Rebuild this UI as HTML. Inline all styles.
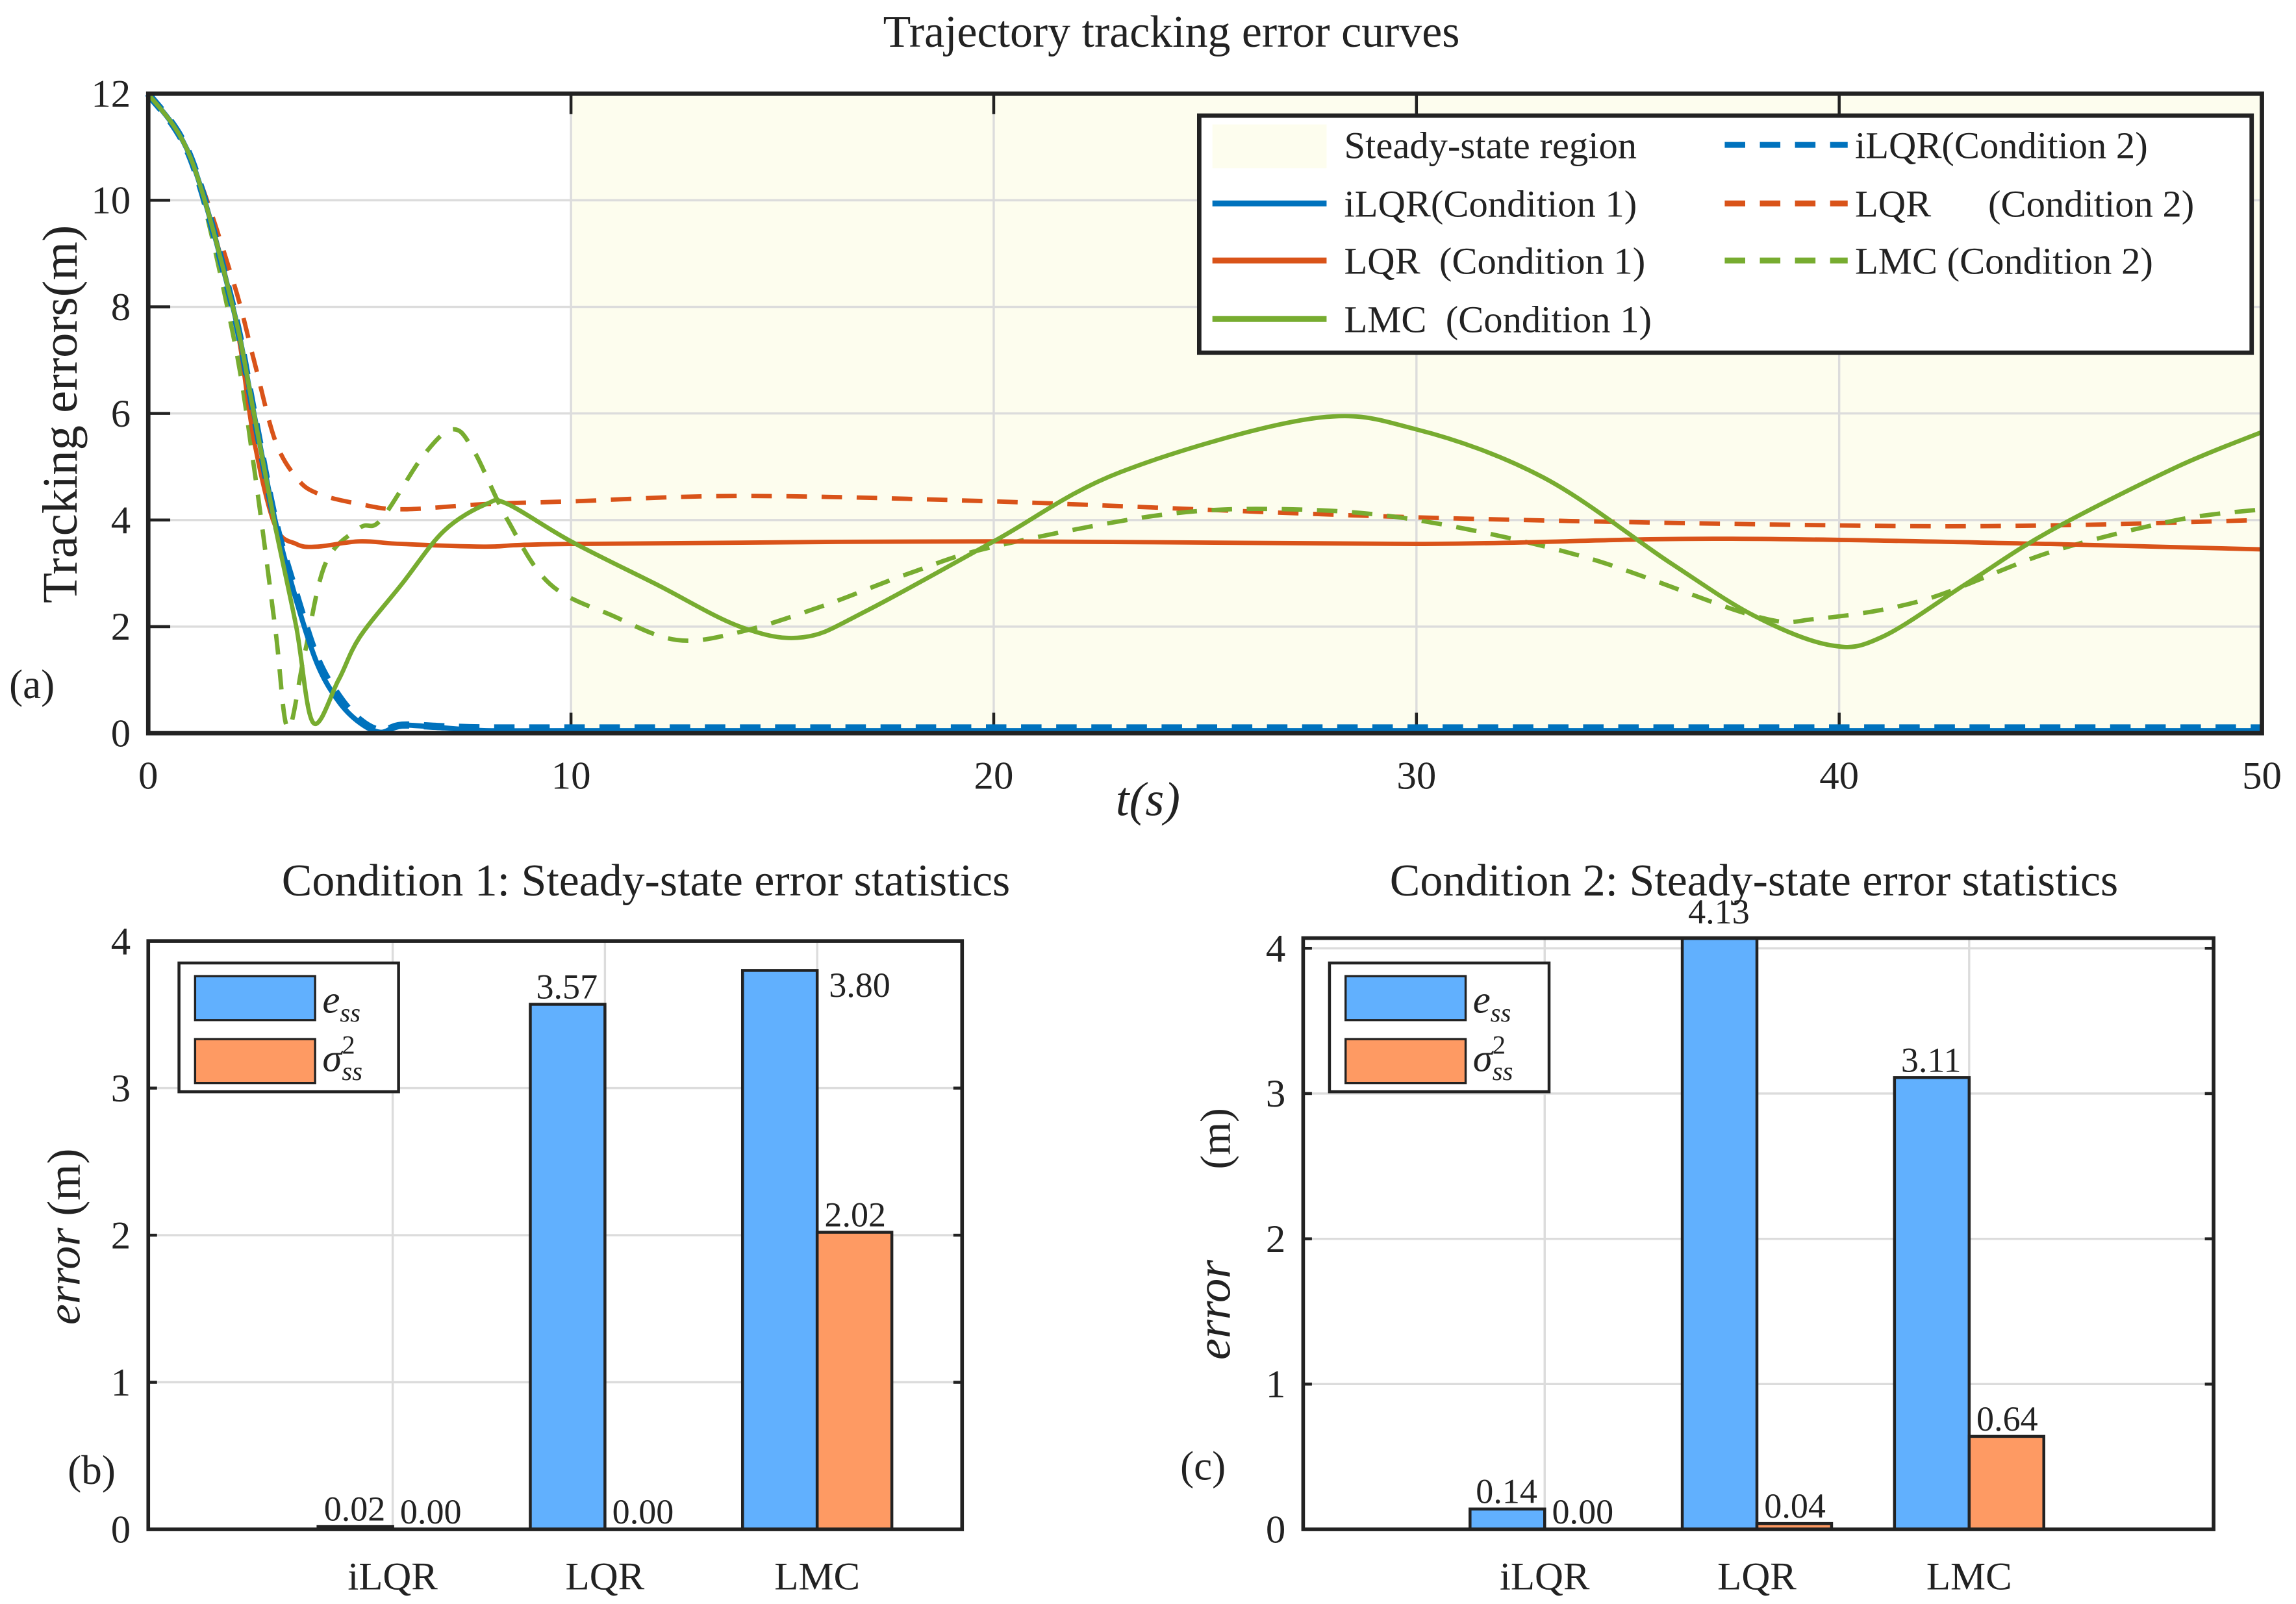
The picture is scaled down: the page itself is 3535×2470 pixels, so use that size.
<!DOCTYPE html>
<html><head><meta charset="utf-8">
<style>
html,body{margin:0;padding:0;background:#fff;}
svg{display:block;}
text{font-family:"Liberation Serif",serif;fill:#222;}
.pre{white-space:pre;}
</style></head>
<body>
<svg id="fig" width="3535" height="2470" viewBox="0 0 1568 1096" xmlns="http://www.w3.org/2000/svg">
<g id="topchart"></g>
<g id="b1"></g>
<g id="b2"></g>
</svg>
<script>
// ---------- top chart data ----------
const tIlqr1=[0,1,2,2.5,3,3.5,4,4.5,5,5.5,6,7,8,10,20,30,40,50];
const vIlqr1=[12,10.8,8,6,4,2.5,1.3,0.6,0.2,0.02,0.15,0.1,0.05,0.05,0.05,0.05,0.05,0.05];
const tIlqr2=[0,1,2,2.5,3,3.5,4,4.5,5,5.5,6,7,8,10,20,30,40,50];
const vIlqr2=[12,10.8,8,6,4,2.6,1.4,0.7,0.25,0.05,0.15,0.12,0.1,0.1,0.1,0.1,0.1,0.1];
const tLqr1=[0,1,2,2.5,3,3.5,4,5,6,8,10,20,30,37,45,50];
const vLqr1=[12,10.8,8,5.5,3.9,3.55,3.5,3.6,3.55,3.5,3.55,3.6,3.55,3.65,3.55,3.45];
const tLqr2=[0,1,2,2.5,3,3.5,4,5,6,8,10,14,20,30,40,45,50];
const vLqr2=[12,10.8,8.5,7,5.5,4.8,4.5,4.3,4.2,4.3,4.35,4.45,4.35,4.05,3.9,3.9,4.0];
const tLmc1=[0,1,2,2.5,3,3.5,3.9,4.5,5,6,7,8,8.5,10,12,14,15.5,17,20,23,27.5,30,33,36,38,39.8,41,43,45,48,50];
const vLmc1=[12,10.8,8,6,3.9,2,0.2,1,1.8,2.8,3.8,4.3,4.3,3.6,2.8,2.0,1.8,2.3,3.6,4.9,5.9,5.7,4.8,3.2,2.2,1.65,1.8,2.8,3.8,5.0,5.65];
const tLmc2=[0,1,2,2.5,3,3.3,3.7,4.2,5,5.5,6.5,7.2,7.7,8.5,9.5,11,12.5,14,16,18,20,24,27,30,34,38,39.5,42,45,48,50];
const vLmc2=[12,10.8,7.5,5,2,0.1,1.5,3.2,3.85,4,5.2,5.7,5.3,4.0,2.8,2.2,1.75,1.9,2.4,3.0,3.5,4.1,4.2,4.0,3.3,2.2,2.15,2.5,3.4,4.0,4.2];
const xTicks=[0,10,20,30,40,50];
const yTicks=[0,2,4,6,8,10,12];
const steadyStart=10;

// ---------- bar chart data ----------
const categories=['iLQR','LQR','LMC'];
const ess1=[0.02,3.57,3.80];
const var1=[0.00,0.00,2.02];
const ess1Labels=['0.02','3.57','3.80'];
const var1Labels=['0.00','0.00','2.02'];
const ess2=[0.14,4.13,3.11];
const var2=[0.00,0.04,0.64];
const ess2Labels=['0.14','4.13','3.11'];
const var2Labels=['0.00','0.04','0.64'];
const barTicks=[0,1,2,3,4];

const NS='http://www.w3.org/2000/svg';
function mk(parent,tag,attrs,txt){const el=document.createElementNS(NS,tag);for(const k in attrs)el.setAttribute(k,attrs[k]);if(txt!==undefined)el.textContent=txt;parent.appendChild(el);return el;}

// ===== top chart =====
const topG=document.getElementById('topchart');
const L0=101,R0=1545,T0=64,B0=501;
const X=t=>L0+(t/50)*(R0-L0);
const Y0=v=>B0-(v/12)*(B0-T0);
let e;
e=mk(topG,'rect',{x:L0,y:T0,width:R0-L0,height:B0-T0,fill:'#fff'});


e=mk(topG,'rect',{x:X(steadyStart),y:T0,width:R0-X(steadyStart),height:B0-T0,fill:'#fdfdee'});


yTicks.forEach(v=>{
  if(v>0&&v<12){e=mk(topG,'line',{x1:L0,x2:R0,y1:Y0(v),y2:Y0(v),stroke:'#dcdcdc','stroke-width':1.5});
  
  }
  mk(topG,'line',{x1:L0,x2:L0+15,y1:Y0(v),y2:Y0(v),stroke:'#222','stroke-width':2});
  e=mk(topG,'text',{x:L0-12,y:Y0(v)+9,'font-size':27,'text-anchor':'end'},String(v));
  
  
});
xTicks.forEach(t=>{
  if(t>0&&t<50){e=mk(topG,'line',{x1:X(t),x2:X(t),y1:T0,y2:B0,stroke:'#dcdcdc','stroke-width':1.5});
  
  }
  mk(topG,'line',{x1:X(t),x2:X(t),y1:B0,y2:B0-14,stroke:'#222','stroke-width':2});
  mk(topG,'line',{x1:X(t),x2:X(t),y1:T0,y2:T0+14,stroke:'#222','stroke-width':2});
  e=mk(topG,'text',{x:X(t),y:B0+38,'font-size':27,'text-anchor':'middle'},String(t));
  
  
});
function smoothPath(pts){
  let d='M'+pts[0][0].toFixed(1)+','+pts[0][1].toFixed(1);
  for(let i=0;i<pts.length-1;i++){
    const p0=pts[Math.max(i-1,0)],p1=pts[i],p2=pts[i+1],p3=pts[Math.min(i+2,pts.length-1)];
    const c1=[p1[0]+(p2[0]-p0[0])/6,p1[1]+(p2[1]-p0[1])/6];
    const c2=[p2[0]-(p3[0]-p1[0])/6,p2[1]-(p3[1]-p1[1])/6];
    d+=' C'+c1[0].toFixed(1)+','+c1[1].toFixed(1)+' '+c2[0].toFixed(1)+','+c2[1].toFixed(1)+' '+p2[0].toFixed(1)+','+p2[1].toFixed(1);
  }
  return d;
}
function series(ts,vs,color,dash,name,w){
  const pts=ts.map((t,i)=>[X(t),Y0(vs[i])]);
  const a={d:smoothPath(pts),fill:'none',stroke:color,'stroke-width':w||3,'stroke-linejoin':'round'};
  if(dash)a['stroke-dasharray']=dash;
  const p=mk(topG,'path',a);
  
  
}
series(tLqr2,vLqr2,'#d95319','14,10','lqr-condition2-line');
series(tLmc2,vLmc2,'#77ac30','14,10','lmc-condition2-line');
series(tLqr1,vLqr1,'#d95319',null,'lqr-condition1-line');
series(tIlqr1,vIlqr1,'#0072bd',null,'ilqr-condition1-line',3.5);
series(tIlqr2,vIlqr2,'#0072bd','14,10','ilqr-condition2-line',5);
series(tLmc1,vLmc1,'#77ac30',null,'lmc-condition1-line');
e=mk(topG,'rect',{x:L0,y:T0,width:R0-L0,height:B0-T0,fill:'none',stroke:'#222','stroke-width':3});


e=mk(topG,'text',{x:800,y:32,'font-size':31,'text-anchor':'middle'},'Trajectory tracking error curves');


e=mk(topG,'text',{x:52,y:283,'font-size':34,'text-anchor':'middle',transform:'rotate(-90 52 283)'},'Tracking errors(m)');


e=mk(topG,'text',{x:784,y:557,'font-size':33,'text-anchor':'middle','font-style':'italic'},'t(s)');


e=mk(topG,'text',{x:6,y:477,'font-size':28},'(a)');


// legend
const lg=mk(topG,'g',{});


mk(lg,'rect',{x:819,y:79,width:719,height:162,fill:'#fff',stroke:'#222','stroke-width':3});
const lrows=[99,139,178,218];
mk(lg,'rect',{x:828,y:85,width:78,height:30,fill:'#fdfdee'});
const leftEntries=[['Steady-state region',null],['iLQR(Condition 1)','#0072bd'],['LQR  (Condition 1)','#d95319'],['LMC  (Condition 1)','#77ac30']];
leftEntries.forEach((en,i)=>{
  if(en[1])mk(lg,'line',{x1:828,x2:906,y1:lrows[i],y2:lrows[i],stroke:en[1],'stroke-width':4});
  e=mk(lg,'text',{x:918,y:lrows[i]+9,'font-size':26,'class':'pre'},en[0]);
  
  
});
const rightEntries=[['iLQR(Condition 2)','#0072bd'],['LQR      (Condition 2)','#d95319'],['LMC (Condition 2)','#77ac30']];
rightEntries.forEach((en,i)=>{
  mk(lg,'line',{x1:1178,x2:1262,y1:lrows[i],y2:lrows[i],stroke:en[1],'stroke-width':4,'stroke-dasharray':'14,10'});
  e=mk(lg,'text',{x:1267,y:lrows[i]+9,'font-size':26,'class':'pre'},en[0]);
  
  
});

// ===== bar charts =====
function barChart(g,cfg){
  const L=cfg.L,R=cfg.R,T=cfg.T,B=cfg.B,ymax=cfg.ymax,ess=cfg.ess,vv=cfg.vv,essL=cfg.essL,vvL=cfg.vvL;
  const Y=v=>B-(v/ymax)*(B-T);
  const step=145, c0=cfg.c0, bw=51;
  mk(g,'rect',{x:L,y:T,width:R-L,height:B-T,fill:'#fff'});
  barTicks.forEach(v=>{
    if(v>0){e=mk(g,'line',{x1:L,x2:R,y1:Y(v),y2:Y(v),stroke:'#dcdcdc','stroke-width':1.5});
    
    }
    mk(g,'line',{x1:L,x2:L+6,y1:Y(v),y2:Y(v),stroke:'#222','stroke-width':2});
    mk(g,'line',{x1:R,x2:R-6,y1:Y(v),y2:Y(v),stroke:'#222','stroke-width':2});
    e=mk(g,'text',{x:L-12,y:Y(v)+9,'font-size':27,'text-anchor':'end'},String(v));
    
    
  });
  categories.forEach((c,i)=>{
    const cx=c0+i*step;
    e=mk(g,'line',{x1:cx,x2:cx,y1:T,y2:B,stroke:'#dcdcdc','stroke-width':1.5});
    
    
  });
  categories.forEach((c,i)=>{
    const cx=c0+i*step;
    const yb=Math.max(Y(ess[i]),T);
    e=mk(g,'rect',{x:cx-bw,y:yb,width:bw,height:B-yb,fill:'#61b0fe',stroke:'#222','stroke-width':2});
    
    
    const yo=Y(vv[i]);
    e=mk(g,'rect',{x:cx,y:yo,width:bw,height:B-yo,fill:'#fe9a63',stroke:'#222','stroke-width':2});
    
    
    const side=(ess[i]>3.7&&ess[i]<4);
    e=mk(g,'text',{x:side?cx+8:cx-26,y:side?Y(ess[i])+18:Y(ess[i])-4,'font-size':24,'text-anchor':side?'start':'middle'},essL[i]);
    
    
    e=mk(g,'text',{x:cx+26,y:yo-4,'font-size':24,'text-anchor':'middle'},vvL[i]);
    
    
    e=mk(g,'text',{x:cx,y:B+41,'font-size':27,'text-anchor':'middle'},c);
    
    
  });
  e=mk(g,'rect',{x:L,y:T,width:R-L,height:B-T,fill:'none',stroke:'#222','stroke-width':2.5});
  
  
  e=mk(g,'text',{x:cfg.titleX,y:612,'font-size':31,'text-anchor':'middle'},cfg.title);
  
  
  e=mk(g,'text',{x:cfg.panelX,y:cfg.panelY,'font-size':28},cfg.panel);
  
  
  if(!cfg.ylabelSplit){
    const t=mk(g,'text',{x:54,y:845,'font-size':32,'text-anchor':'middle',transform:'rotate(-90 54 845)'});
    
    
    mk(t,'tspan',{'font-style':'italic'},'error');
    mk(t,'tspan',{},' (m)');
  }else{
    e=mk(g,'text',{x:840,y:895,'font-size':33,'text-anchor':'middle','font-style':'italic',transform:'rotate(-90 840 895)'},'error');
    
    
    e=mk(g,'text',{x:840,y:778,'font-size':29,'text-anchor':'middle',transform:'rotate(-90 840 778)'},'(m)');
    
    
  }
  const lgX=cfg.lgX;
  const l=mk(g,'g',{});
  
  
  mk(l,'rect',{x:lgX,y:658,width:150,height:88,fill:'#fff',stroke:'#222','stroke-width':2});
  mk(l,'rect',{x:lgX+11,y:667,width:82,height:30,fill:'#61b0fe',stroke:'#222','stroke-width':1.5});
  mk(l,'rect',{x:lgX+11,y:710,width:82,height:30,fill:'#fe9a63',stroke:'#222','stroke-width':1.5});
  const t1=mk(l,'text',{x:lgX+98,y:692,'font-size':27,'font-style':'italic'});
  
  
  mk(t1,'tspan',{},'e');
  mk(t1,'tspan',{'font-size':18,dy:6},'ss');
  const t2=mk(l,'text',{x:lgX+98,y:732,'font-size':27,'font-style':'italic'});
  
  
  mk(t2,'tspan',{},'σ');
  mk(t2,'tspan',{'font-size':18,dy:-12,'font-style':'normal'},'2');
  mk(t2,'tspan',{'font-size':18,dy:18,dx:-9},'ss');
}
barChart(document.getElementById('b1'),{L:101,R:657,T:643,B:1045,ymax:4,ess:ess1,vv:var1,essL:ess1Labels,vvL:var1Labels,
  title:'Condition 1: Steady-state error statistics',titleX:441,panel:'(b)',panelX:46,panelY:1014,ylabelSplit:false,lgX:122,c0:268});
barChart(document.getElementById('b2'),{L:890,R:1512,T:641,B:1045,ymax:4.07,ess:ess2,vv:var2,essL:ess2Labels,vvL:var2Labels,
  title:'Condition 2: Steady-state error statistics',titleX:1198,panel:'(c)',panelX:806,panelY:1011,ylabelSplit:true,lgX:908,c0:1055});
</script>
</body></html>
